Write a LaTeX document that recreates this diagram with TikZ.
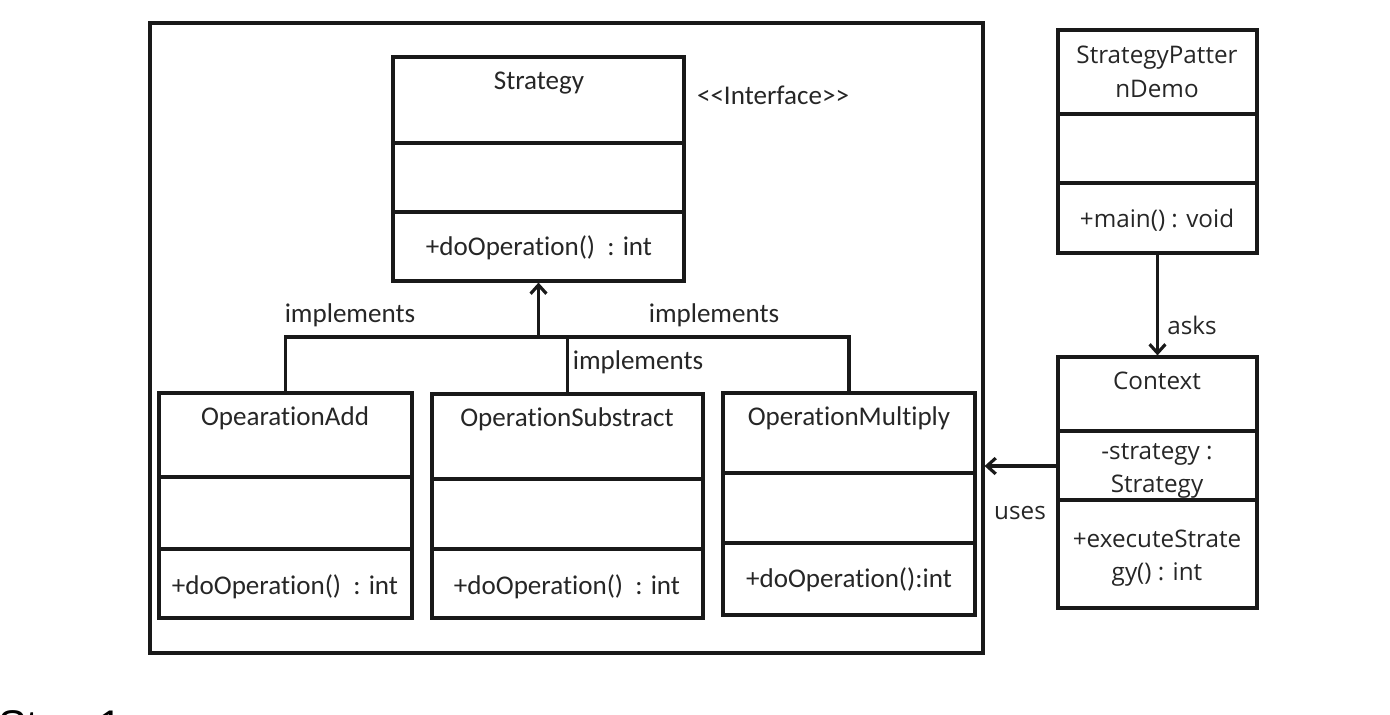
\documentclass[tikz,border=0pt]{standalone}
\usepackage{fontspec}
\setmainfont{Carlito}[Ligatures=NoCommon]
\newfontfamily\demofont{Open Sans}
\newfontfamily\stepfont{Liberation Sans}
\usetikzlibrary{arrows.meta,fit}

\begin{document}
\begin{tikzpicture}%
        [x=0.02cm,
        y=-0.02cm,
        >={Straight Barb[length=5pt,width=9pt]},
        box/.style={draw=black!90, line width=1.8pt, inner sep=0pt},
        part/.style={draw=black!90, line width=1.8pt},
        link/.style={draw=black!90, line width=1.8pt},
        classtext/.style={font=\fontsize{15.4}{18}\selectfont, text=black!85, inner sep=0pt},
        demotext/.style={font=\demofont\fontsize{13.8}{19}\selectfont, text=black!85, inner sep=0pt, align=center}]

    \useasboundingbox (0,0) rectangle (1390,714);

    %% Drawing the frame
    \node[box, fit={(150,23) (983,653)}] (frame) {};

    %% Strategy interface
    \node[box, fit={(393,57) (684,281)}] (strategy) {};
    \draw[part] (393,143) -- (684,143);
    \draw[part] (393,212) -- (684,212);
    \node[classtext] (strategyname) at (539,83) {Strategy};
    \node[classtext] (strategyop) at (539,248) {+doOperation()\ \ : int};
    \node[classtext] (stereo) at (773,95) {<{}<Interface>{}>};

    %% Implementing classes
    \node[box, fit={(159,393) (412,618)}] (add) {};
    \draw[part] (159,477) -- (412,477);
    \draw[part] (159,549) -- (412,549);
    \node[classtext] (addname) at (285,418) {OpearationAdd};
    \node[classtext] (addop) at (285,587) {+doOperation()\ \ : int};

    \node[box, fit={(432,394) (703,618)}] (substract) {};
    \draw[part] (432,479) -- (703,479);
    \draw[part] (432,549) -- (703,549);
    \node[classtext] (substractname) at (567,419) {OperationSubstract};
    \node[classtext] (substractop) at (567,587) {+doOperation()\ \ : int};

    \node[box, fit={(723,393) (975,615)}] (multiply) {};
    \draw[part] (723,473) -- (975,473);
    \draw[part] (723,543) -- (975,543);
    \node[classtext] (multiplyname) at (849,418) {OperationMultiply};
    \node[classtext] (multiplyop) at (849,580) {+doOperation():int};

    %% Implements
    \coordinate (joint) at (strategy.south |- 0,337);
    \draw[link,->] (joint) -- (strategy.south);
    \draw[link] (add.north) |- (joint) -| (multiply.north);
    \draw[link] (substract.north) -- (substract.north |- joint);
    \node[classtext] (impleft) at (350,315) {implements};
    \node[classtext] (impright) at (714,315) {implements};
    \node[classtext] (impmid) at (638,362) {implements};

    %% Demo and context
    \node[box, fit={(1058,30) (1257,253)}] (demo) {};
    \draw[part] (1058,114) -- (1257,114);
    \draw[part] (1058,183) -- (1257,183);
    \node[demotext] (demoname) at (1157,72) {StrategyPatter\\nDemo};
    \node[demotext] (demoop) at (1157,220) {+main() : void};

    \node[box, fit={(1058,357) (1257,608)}] (context) {};
    \draw[part] (1058,431) -- (1257,431);
    \draw[part] (1058,500) -- (1257,500);
    \node[demotext] (contextname) at (1157,381) {Context};
    \node[demotext] (contextattr) at (1157,471) {-strategy :\\Strategy};
    \node[demotext] (contextop) at (1157,558) {+executeStrate\\gy() : int};

    \draw[link,->] (demo.south) -- (context.north);
    \node[demotext] (asks) at (1192,325) {asks};

    \coordinate (usesstart) at (context.west |- 0,466);
    \draw[link,->] (usesstart) -- (usesstart -| frame.east);
    \node[demotext] (uses) at (1020,513) {uses};

    %% Caption below, cut by the page
    \node[anchor=base west, inner sep=0pt, font=\stepfont\fontsize{24.4}{29}\selectfont] (steptitle) at (-2,740) {Step 1};
\end{tikzpicture}
\end{document}
